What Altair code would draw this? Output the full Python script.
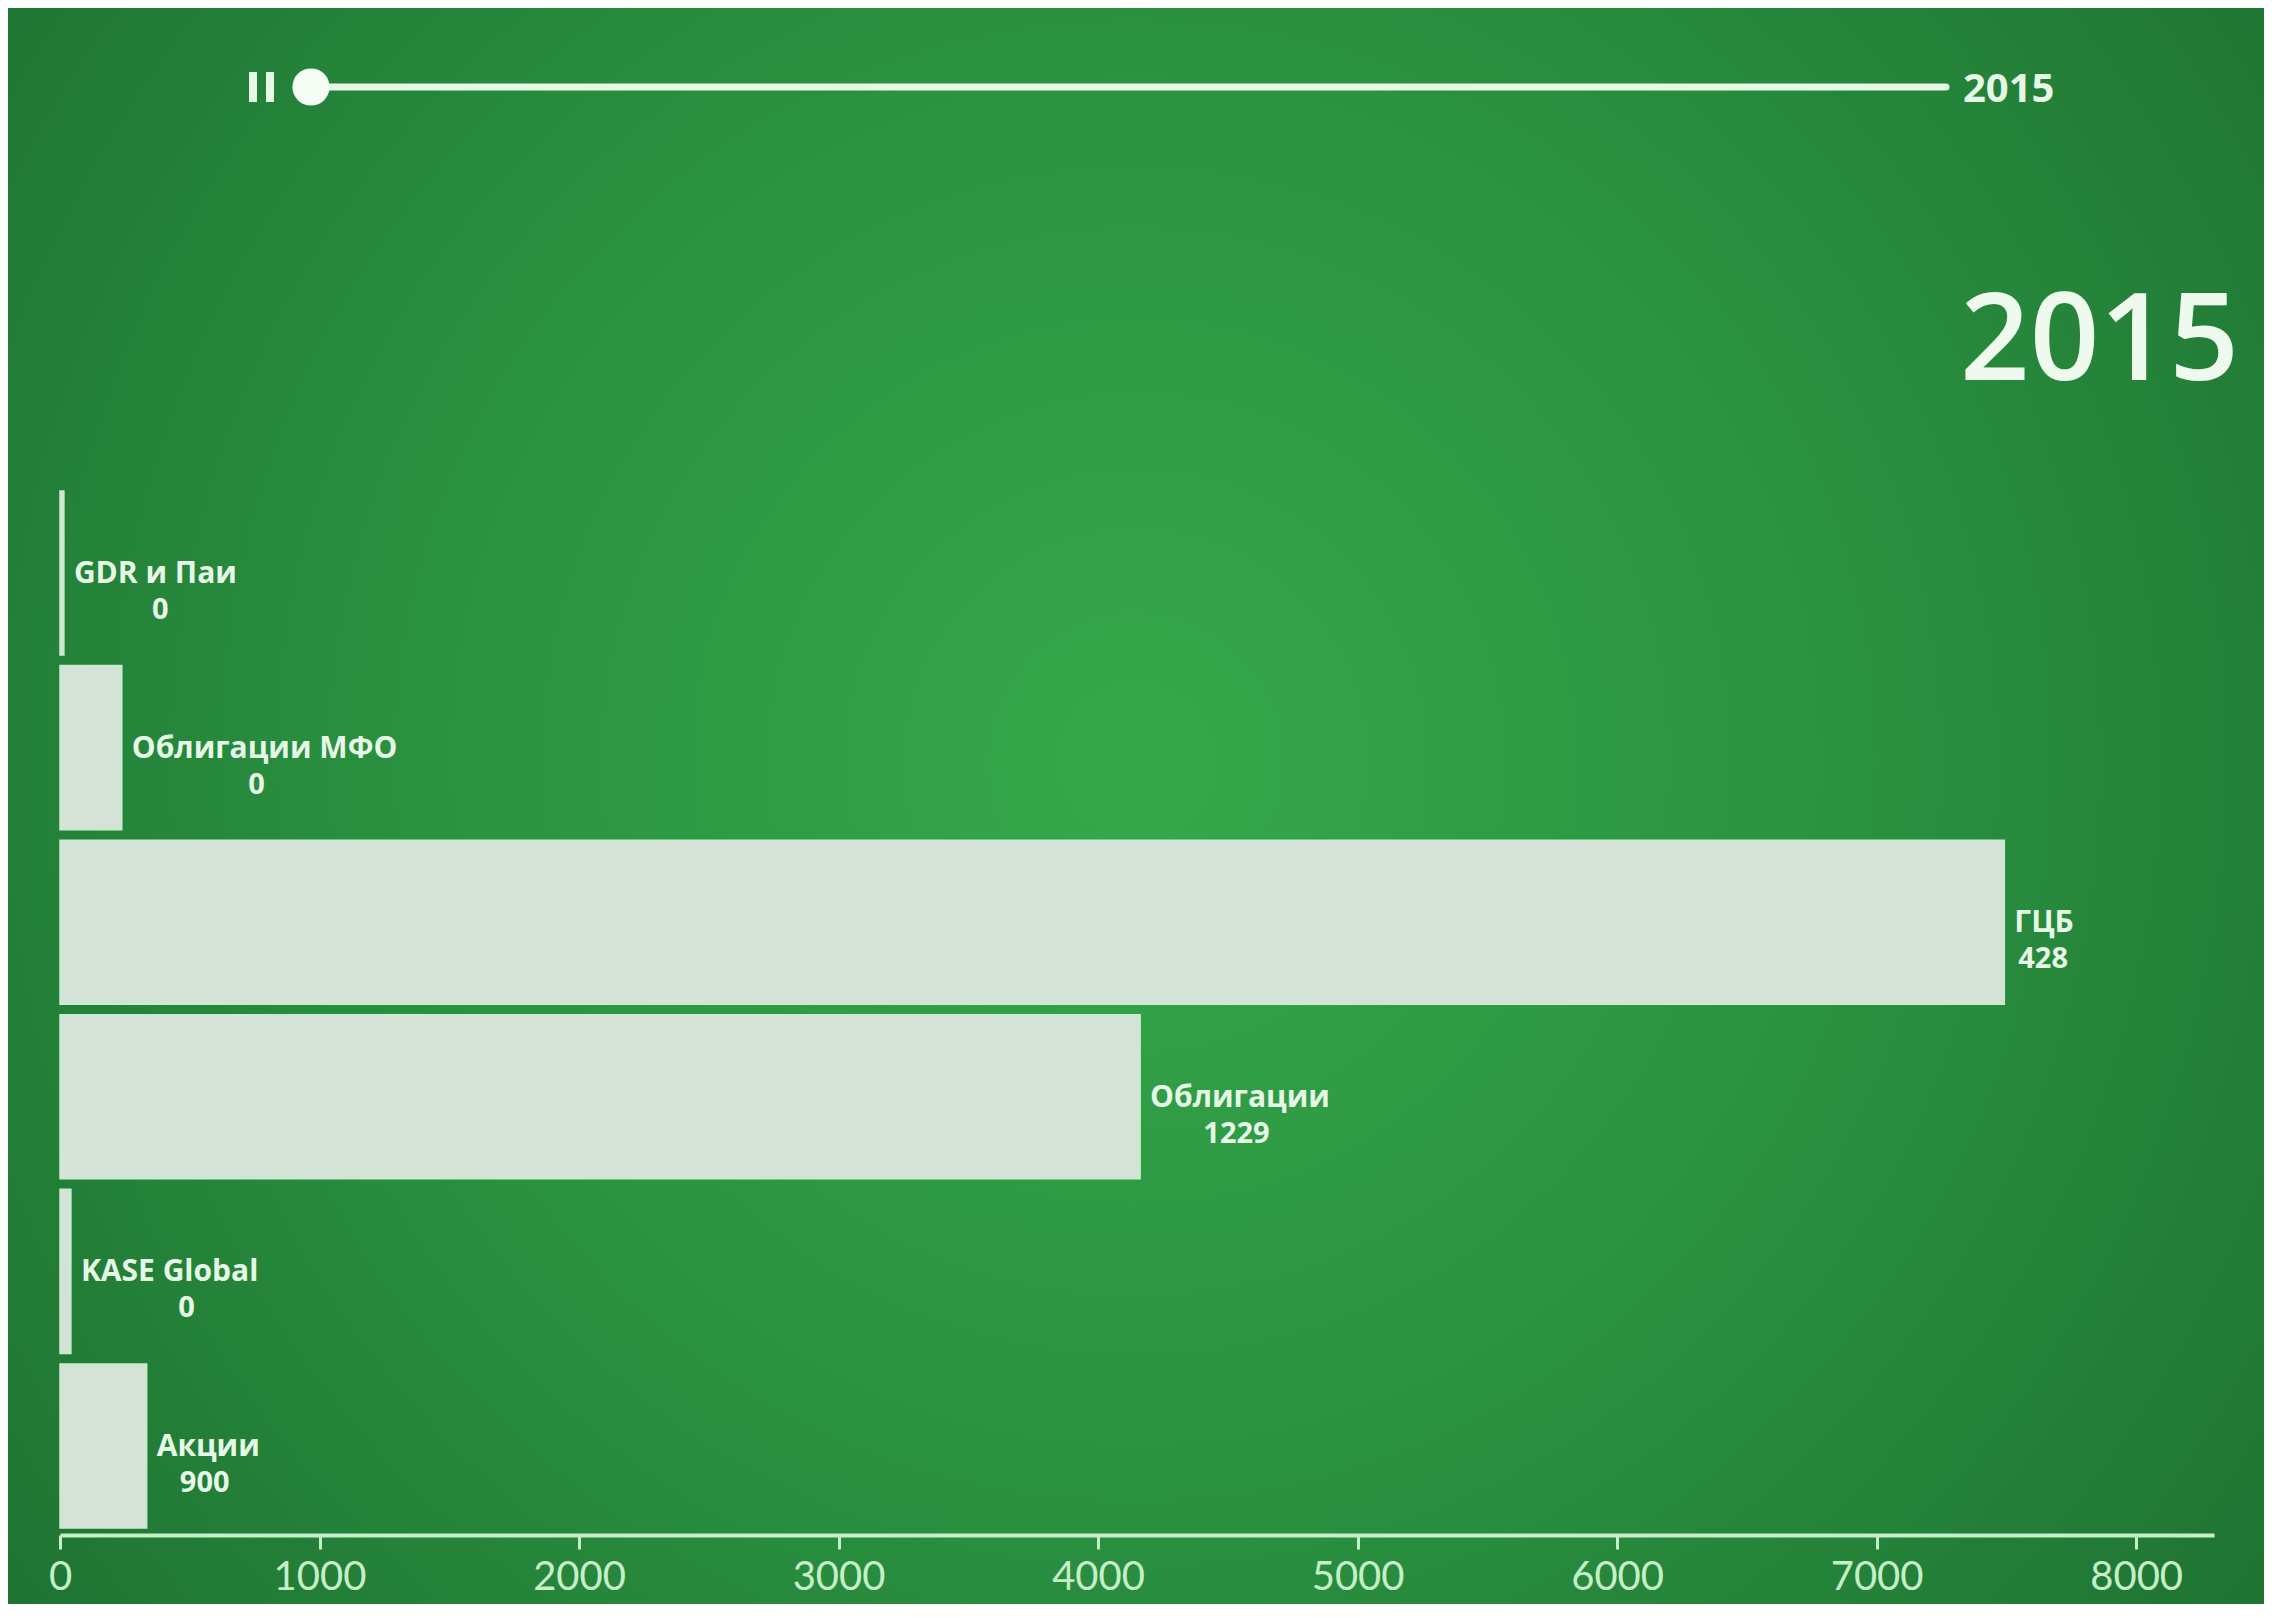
import altair as alt
import pandas as pd

# ---- data ----
categories = ["GDR и Паи", "Облигации МФО", "ГЦБ", "Облигации", "KASE Global", "Акции"]
bar_values = [15, 238, 7492, 4162, 42, 334]
label_values = ["0", "0", "428", "1229", "0", "900"]
year = ["2015"]
x_ticks = [0, 1000, 2000, 3000, 4000, 5000, 6000, 7000, 8000]

# ---- layout ----
W, H = 2154, 1051
XMAX = 8300
PAD = {"left": 52, "top": 476, "right": 50, "bottom": 69}
TXT = "#e6f8e6"
AX = "#c6efc9"

df = pd.DataFrame({"name": categories, "v": bar_values, "lab": label_values})
one = pd.DataFrame({"t": year})

xs = alt.Scale(domain=[0, XMAX], nice=False, zero=True)
ys = alt.Scale(domain=categories, paddingInner=0.06, paddingOuter=0.04)

bg = alt.Chart(one).mark_rect(
    fill={
        "gradient": "radial",
        "stops": [
            {"offset": 0, "color": "#36a84b"},
            {"offset": 0.45, "color": "#2a9140"},
            {"offset": 1, "color": "#1b6a2e"},
        ],
        "x1": 0.5, "y1": 0.48, "r1": 0,
        "x2": 0.5, "y2": 0.48, "r2": 0.72,
    }
).encode(
    x=alt.value(-PAD["left"]), x2=alt.value(W + PAD["right"]),
    y=alt.value(-PAD["top"]), y2=alt.value(H + PAD["bottom"]),
)

base = alt.Chart(df)

bars = base.mark_bar(color="#d4e2d8", stroke="#c4efcc", strokeWidth=1.5).encode(
    x=alt.X(
        "v:Q", scale=xs,
        axis=alt.Axis(
            values=x_ticks, title=None, grid=False, format="d", zindex=1,
            labelFont="Lato", labelFontSize=40, labelColor=AX, labelFlush=False,
            labelPadding=8, domainColor=AX, domainWidth=4,
            tickColor=AX, tickWidth=3, tickSize=14,
        ),
    ),
    y=alt.Y("name:N", scale=ys, axis=None, sort=categories),
)

names = base.mark_text(
    align="left", baseline="middle", dx=10, dy=1,
    font="Open Sans", fontSize=30, fontWeight="bold", color=TXT,
).encode(
    x=alt.X("v:Q", scale=xs),
    y=alt.Y("name:N", scale=ys, sort=categories),
    text="name:N",
)

vals = base.transform_calculate(
    lx=f"datum.v + (10 + length(datum.name) * 9.6) * {XMAX} / {W}"
).mark_text(
    align="center", baseline="middle", dy=37,
    font="Open Sans", fontSize=29, fontWeight="bold", color=TXT,
).encode(
    x=alt.X("lx:Q", scale=xs),
    y=alt.Y("name:N", scale=ys, sort=categories),
    text="lab:N",
)

# ---- player decoration at the top ----
slider = alt.Chart(one).mark_rule(color=TXT, strokeWidth=7, strokeCap="round").encode(
    x=alt.value(249), x2=alt.value(1886), y=alt.value(-397)
)
knob = alt.Chart(one).mark_circle(size=1385, color="#f4fcf4", opacity=1).encode(
    x=alt.value(251), y=alt.value(-397)
)
pause1 = alt.Chart(one).mark_rule(color=TXT, strokeWidth=8).encode(
    x=alt.value(193), y=alt.value(-412), y2=alt.value(-382)
)
pause2 = alt.Chart(one).mark_rule(color=TXT, strokeWidth=8).encode(
    x=alt.value(210), y=alt.value(-412), y2=alt.value(-382)
)
slider_label = alt.Chart(one).mark_text(
    align="left", baseline="middle", font="Open Sans", fontSize=40,
    fontWeight="bold", color=TXT,
).encode(x=alt.value(1903), y=alt.value(-394), text="t:N")

big_year = alt.Chart(one).mark_text(
    align="right", baseline="middle", font="Open Sans", fontSize=122,
    fontWeight=600, color="#eefaee",
).encode(x=alt.value(2179), y=alt.value(-141), text="t:N")

chart = alt.layer(
    bg, bars, names, vals, slider, knob, pause1, pause2, slider_label, big_year
).properties(
    width=W, height=H, padding=PAD,
    autosize=alt.AutoSizeParams(type="none"),
).configure(background="#1f7433").configure_view(stroke=None)

chart.save("out.html", embed_options={"renderer": "svg", "actions": False})
